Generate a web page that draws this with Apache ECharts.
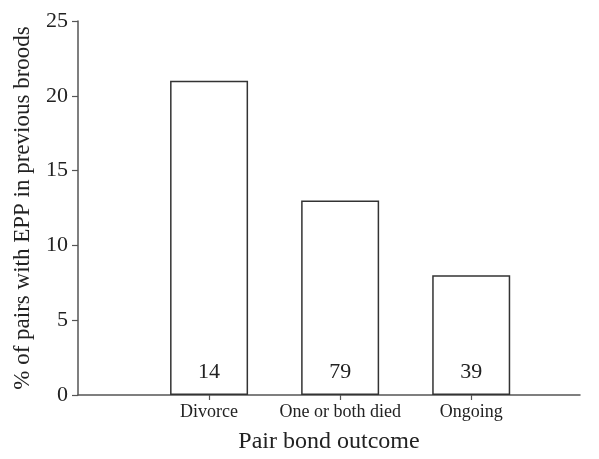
<!DOCTYPE html>
<html>
<head>
<meta charset="utf-8">
<script src="https://cdn.jsdelivr.net/npm/echarts@6/dist/echarts.min.js"></script>
<style>
html,body{margin:0;padding:0;background:#fff;}
#chart{width:599px;height:459px;}
</style>
</head>
<body>
<div id="chart"></div>
<script>
var categories = ['Divorce', 'One or both died', 'Ongoing'];
var positions = [1, 2, 3];
var percentEPP = [21, 13, 8];
var sampleSizes = [14, 79, 39];
var yTicks = [0, 5, 10, 15, 20, 25];

var FONT = '"Liberation Serif", "Times New Roman", serif';
var chart = echarts.init(document.getElementById('chart'), null, {renderer: 'canvas'});

var barData = positions.map(function (p, i) {
  return {value: [p, percentEPP[i]], n: sampleSizes[i]};
});

chart.setOption({
  animation: false,
  backgroundColor: '#fff',
  grid: {left: 78, right: 19, top: 21, bottom: 59, containLabel: false},
  xAxis: {
    type: 'value',
    min: 0,
    max: 3.83,
    interval: 1,
    name: 'Pair bond outcome',
    nameLocation: 'middle',
    nameGap: 35,
    nameTextStyle: {fontFamily: FONT, fontSize: 24, color: '#222'},
    axisLine: {show: true, lineStyle: {color: '#555', width: 1.5}},
    axisTick: {show: true, length: 5, customValues: positions, lineStyle: {color: '#555', width: 1.2}},
    axisLabel: {
      show: true,
      customValues: positions,
      margin: 8,
      fontFamily: FONT, fontSize: 18, color: '#222',
      formatter: function (v) {
        var idx = positions.indexOf(Math.round(v));
        return idx >= 0 ? categories[idx] : '';
      }
    },
    splitLine: {show: false}
  },
  yAxis: {
    type: 'value',
    min: yTicks[0],
    max: yTicks[yTicks.length - 1],
    interval: 5,
    name: '% of pairs with EPP in previous broods',
    nameLocation: 'middle',
    nameGap: 44,
    nameTextStyle: {fontFamily: FONT, fontSize: 23, color: '#222'},
    axisLine: {show: true, lineStyle: {color: '#555', width: 1.5}},
    axisTick: {show: true, length: 6, lineStyle: {color: '#555', width: 1.2}},
    axisLabel: {margin: 10, fontFamily: FONT, fontSize: 22, color: '#222'},
    splitLine: {show: false}
  },
  series: [{
    type: 'bar',
    data: barData,
    barWidth: 78,
    itemStyle: {color: '#fff', borderColor: '#333', borderWidth: 1.5},
    label: {
      show: true,
      position: 'insideBottom',
      distance: 12,
      fontFamily: FONT, fontSize: 22, color: '#222',
      formatter: function (p) { return String(p.data.n); }
    }
  }]
});
</script>
</body>
</html>
